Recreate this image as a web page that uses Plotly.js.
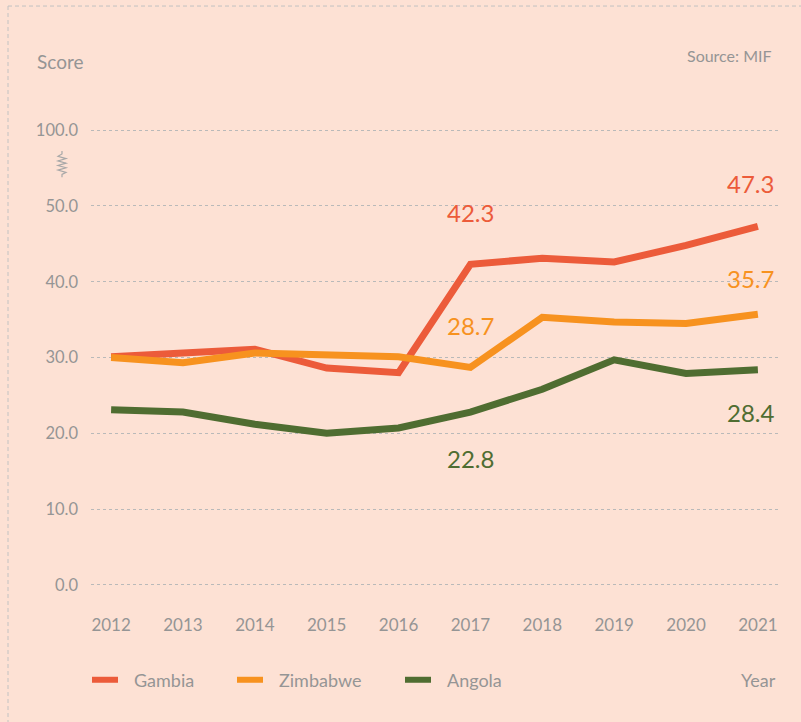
<!DOCTYPE html>
<html>
<head>
<meta charset="utf-8">
<script src="https://cdn.plot.ly/plotly-3.0.1.min.js"></script>
<style>
html,body{margin:0;padding:0;background:#fde1d4;}
#chart{width:801px;height:722px;}
</style>
</head>
<body>
<div id="chart"></div>
<script>
// Data
const years = [2012, 2013, 2014, 2015, 2016, 2017, 2018, 2019, 2020, 2021];
const gambia   = [30.1, 30.6, 31.1, 28.6, 28.0, 42.3, 43.1, 42.6, 44.8, 47.3];
const zimbabwe = [30.0, 29.3, 30.6, 30.3, 30.1, 28.7, 35.3, 34.7, 34.5, 35.7];
const angola   = [23.1, 22.8, 21.2, 20.0, 20.7, 22.8, 25.8, 29.7, 27.9, 28.4];
// y tick positions (axis is broken: 100 drawn one step above 50)
const yTickVals = [0, 10, 20, 30, 40, 50, 60];
const yTickText = ["0.0", "10.0", "20.0", "30.0", "40.0", "50.0", "100.0"];
// labelled points: [series index, year index]
const labelled = [[0, 5], [0, 9], [1, 5], [1, 9], [2, 5], [2, 9]];

const names = ["Gambia", "Zimbabwe", "Angola"];
const series = [gambia, zimbabwe, angola];
const colors = ["#ec5b3a", "#f7921f", "#4f6d31"];
const grey = "#959595";
const FONT = "Lato, 'Open Sans', sans-serif";

const traces = series.map((s, i) => ({
  x: years, y: s, type: 'scatter', mode: 'lines', name: names[i],
  line: {color: colors[i], width: 7},
  hoverinfo: 'skip', showlegend: false
}));

// label offsets (style), same order as `labelled`
const yshifts = [52, 43, 42, 36, -46, -43];
const annotations = labelled.map(([si, yi], k) => ({
  x: years[yi], y: series[si][yi], xref: 'x', yref: 'y',
  text: series[si][yi].toFixed(1), showarrow: false,
  xshift: yi === years.length - 1 ? -7 : 0,
  yshift: yshifts[k],
  font: {family: FONT, size: 24, color: colors[si]}
}));

// pixel -> paper helpers
const pw = 687, ph = 485.2, pl = 91, pbot = 600.2;
function px(x){ return (x - pl) / pw; }
function py(y){ return (pbot - y) / ph; }

annotations.push(
  {xref: 'paper', yref: 'paper', x: px(35), y: py(61), xanchor: 'left', yanchor: 'middle',
   text: 'Score', showarrow: false, font: {family: FONT, size: 19, color: grey}},
  {xref: 'paper', yref: 'paper', x: px(774), y: py(55), xanchor: 'right', yanchor: 'middle',
   text: 'Source: MIF', showarrow: false, font: {family: FONT, size: 16, color: grey}},
  {xref: 'paper', yref: 'paper', x: px(778), y: py(680), xanchor: 'right', yanchor: 'middle',
   text: 'Year', showarrow: false, font: {family: FONT, size: 18, color: grey}}
);

// manual legend
const legendLineX = [92, 237, 405];
const legendY = 680;
const shapes = [];
names.forEach((n, i) => {
  shapes.push({type: 'line', xref: 'paper', yref: 'paper',
    x0: px(legendLineX[i]), x1: px(legendLineX[i] + 26), y0: py(legendY), y1: py(legendY),
    line: {color: colors[i], width: 6}});
  annotations.push({xref: 'paper', yref: 'paper', x: px(legendLineX[i] + 40), y: py(legendY),
    xanchor: 'left', yanchor: 'middle', text: n, showarrow: false,
    font: {family: FONT, size: 18, color: grey}});
});

// break symbol (zig-zag) left of the axis
let d = `M ${px(62)} ${py(151)} L ${px(62)} ${py(154)}`;
let yy = 154, left = true;
for (let k = 0; k < 8; k++) {
  yy += 2.3;
  d += ` L ${px(left ? 58 : 66)} ${py(yy)}`;
  left = !left;
}
d += ` L ${px(62)} ${py(yy + 2)} L ${px(62)} ${py(yy + 5)}`;

shapes.push(
  {type: 'path', xref: 'paper', yref: 'paper', path: d,
   line: {color: '#a8a8a8', width: 1.2}},
  // dashed frame (top and left)
  {type: 'line', xref: 'paper', yref: 'paper', x0: px(8), x1: px(805), y0: py(6), y1: py(6),
   line: {color: '#c2c2c2', width: 1, dash: '4px,3px'}},
  {type: 'line', xref: 'paper', yref: 'paper', x0: px(8), x1: px(8), y0: py(6), y1: py(730),
   line: {color: '#c2c2c2', width: 1, dash: '4px,3px'}}
);

const layout = {
  width: 801, height: 722,
  paper_bgcolor: '#fde1d4', plot_bgcolor: '#fde1d4',
  margin: {l: 91, r: 23, t: 115, b: 122},
  font: {family: FONT, color: grey},
  showlegend: false,
  xaxis: {
    range: [2011.72, 2021.28], tickmode: 'array', tickvals: years,
    ticktext: years.map(String), showgrid: false, zeroline: false, showline: false,
    ticks: '', ticklabelstandoff: 13, tickfont: {family: FONT, size: 17, color: grey},
    fixedrange: true
  },
  yaxis: {
    range: [-2, 62], tickmode: 'array', tickvals: yTickVals, ticktext: yTickText,
    showgrid: true, gridcolor: '#b9b9b9', griddash: '3px,3px', gridwidth: 1,
    zeroline: false, showline: false, ticks: '', ticklabelstandoff: 12,
    tickfont: {family: FONT, size: 16.5, color: grey}, fixedrange: true
  },
  annotations: annotations,
  shapes: shapes
};

Plotly.newPlot('chart', traces, layout, {displayModeBar: false, staticPlot: true});
</script>
</body>
</html>
